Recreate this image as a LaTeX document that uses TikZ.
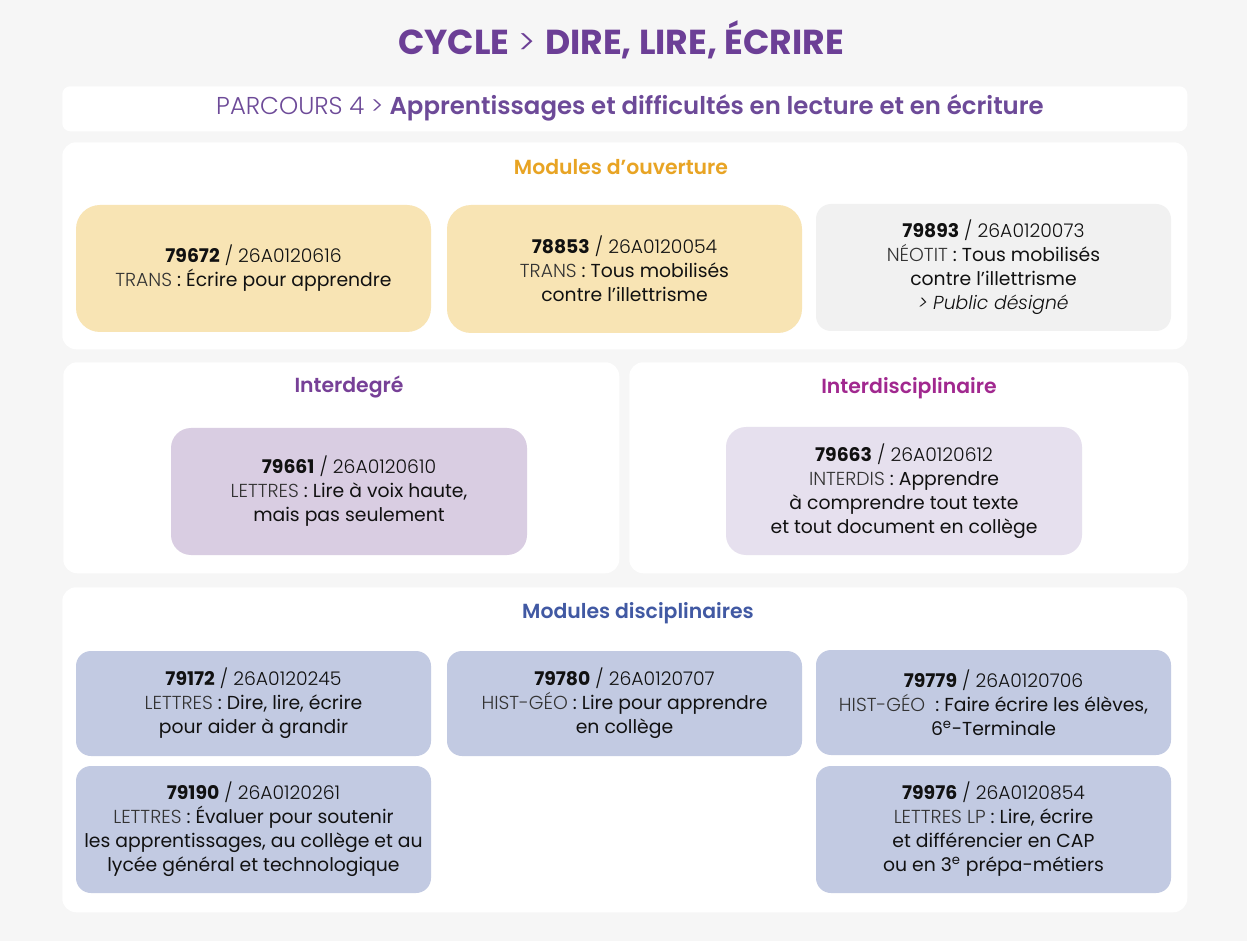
\documentclass[tikz,border=0pt]{standalone}
\usepackage{fontspec}
\setmainfont{Poppins}
\newfontfamily\lightf{Poppins Light}
\newfontfamily\semif{Poppins SemiBold}
\definecolor{bgc}{HTML}{F6F6F6}
\definecolor{titlec}{HTML}{6C3F96}
\definecolor{parc}{HTML}{6D4A98}
\definecolor{orangec}{HTML}{E8A424}
\definecolor{idegc}{HTML}{774097}
\definecolor{idisc}{HTML}{A1288F}
\definecolor{discc}{HTML}{4159A3}
\definecolor{yelc}{HTML}{F8E4B4}
\definecolor{grayc}{HTML}{F1F1F1}
\definecolor{purpc}{HTML}{D9CDE2}
\definecolor{lilac}{HTML}{E6E0EE}
\definecolor{bluec}{HTML}{C2CAE2}
\definecolor{txtc}{HTML}{111111}
\definecolor{lightc}{HTML}{333333}
\newcommand{\code}[2]{{\bfseries #1} {\lightf/ #2}}
\newcommand{\lbl}[1]{{\lightf\color{lightc}#1}}
\tikzset{
  panel/.style={fill=white, draw=none, rounded corners=14pt*0.75, inner sep=0pt, anchor=north west},
  module/.style={draw=none, inner sep=0pt, align=center, text=txtc,
     font=\fontsize{14.1}{18}\selectfont, minimum width=355*0.75pt},
  sectitle/.style={font=\semif\fontsize{15.3}{18}\selectfont, inner sep=0pt},
}
\begin{document}
\begin{tikzpicture}[x=0.75pt, y=-0.75pt]
\fill[bgc] (0,0) rectangle (1247,941);
\useasboundingbox (0,0) rectangle (1247,941);
% title
\node[font=\fontsize{26}{30}\selectfont, text=titlec, inner sep=0pt] (title) at (621,40)
  {{\bfseries CYCLE} {\lightf >} {\bfseries DIRE, LIRE, ÉCRIRE}};
% parcours bar
\node[panel, rounded corners=6pt, minimum width=1125*0.75pt, minimum height=45*0.75pt] (parcbar) at (62,86) {};
\node[font=\fontsize{18.3}{21}\selectfont, text=parc, inner sep=0pt] (parctxt) at (630,108)
  {{\lightf PARCOURS 4 >} {\semif Apprentissages et difficultés en lecture et en écriture}};
% panels
\node[panel, minimum width=1125*0.75pt, minimum height=207*0.75pt] (p1) at (62,142) {};
\node[panel, minimum width=556*0.75pt, minimum height=211*0.75pt] (p2l) at (63,362) {};
\node[panel, minimum width=559*0.75pt, minimum height=211*0.75pt] (p2r) at (629,362) {};
\node[panel, minimum width=1125*0.75pt, minimum height=325*0.75pt] (p3) at (62,587) {};
% section titles
\node[sectitle, text=orangec] (t1) at (621,167) {Modules d’ouverture};
\node[sectitle, text=idegc] (t2) at (349,387) {Interdegré};
\node[sectitle, text=idisc] (t3) at (909,388) {Interdisciplinaire};
\node[sectitle, text=discc] (t4) at (638,613) {Modules disciplinaires};
% modules d'ouverture
\node[module, fill=yelc, rounded corners=24*0.75pt, minimum height=127*0.75pt] (m1) at (253.5,268.5)
  {\code{79672}{26A0120616}\\ \lbl{TRANS} : Écrire pour apprendre};
\node[module, fill=yelc, rounded corners=24*0.75pt, minimum height=128*0.75pt] (m2) at (624.5,269)
  {\code{78853}{26A0120054}\\ \lbl{TRANS} : Tous mobilisés\\ contre l’illettrisme};
\node[module, fill=grayc, rounded corners=15*0.75pt, minimum height=127*0.75pt] (m3) at (993.5,267.5)
  {\code{79893}{26A0120073}\\ \lbl{NÉOTIT} : Tous mobilisés\\ contre l’illettrisme\\ {\lightf\itshape > Public désigné}};
% interdegre / interdisciplinaire
\node[module, fill=purpc, rounded corners=20*0.75pt, minimum width=356*0.75pt, minimum height=127*0.75pt] (m4) at (349,491.5)
  {\code{79661}{26A0120610}\\ \lbl{LETTRES} : Lire à voix haute,\\ mais pas seulement};
\node[module, fill=lilac, rounded corners=20*0.75pt, minimum width=356*0.75pt, minimum height=128*0.75pt] (m5) at (904,491)
  {\code{79663}{26A0120612}\\ \lbl{INTERDIS} : Apprendre\\ à comprendre tout texte\\ et tout document en collège};
% disciplinaires
\node[module, fill=bluec, rounded corners=15*0.75pt, minimum height=105*0.75pt] (m6) at (253.5,703.5)
  {\code{79172}{26A0120245}\\ \lbl{LETTRES} : Dire, lire, écrire\\ pour aider à grandir};
\node[module, fill=bluec, rounded corners=15*0.75pt, minimum height=105*0.75pt] (m7) at (624.5,703.5)
  {\code{79780}{26A0120707}\\ \lbl{HIST-GÉO} : Lire pour apprendre\\ en collège};
\node[module, fill=bluec, rounded corners=15*0.75pt, minimum height=105*0.75pt] (m8) at (993.5,702.5)
  {\code{79779}{26A0120706}\\ \lbl{HIST-GÉO} \ : Faire écrire les élèves,\\ 6\textsuperscript{e}-Terminale};
\node[module, fill=bluec, rounded corners=15*0.75pt, minimum height=127*0.75pt] (m9) at (253.5,829.5)
  {\code{79190}{26A0120261}\\ \lbl{LETTRES} : Évaluer pour soutenir\\ les apprentissages, au collège et au\\ lycée général et technologique};
\node[module, fill=bluec, rounded corners=15*0.75pt, minimum height=127*0.75pt] (m10) at (993.5,829.5)
  {\code{79976}{26A0120854}\\ \lbl{LETTRES LP} : Lire, écrire\\ et différencier en CAP\\ ou en 3\textsuperscript{e} prépa-métiers};
\end{tikzpicture}
\end{document}
